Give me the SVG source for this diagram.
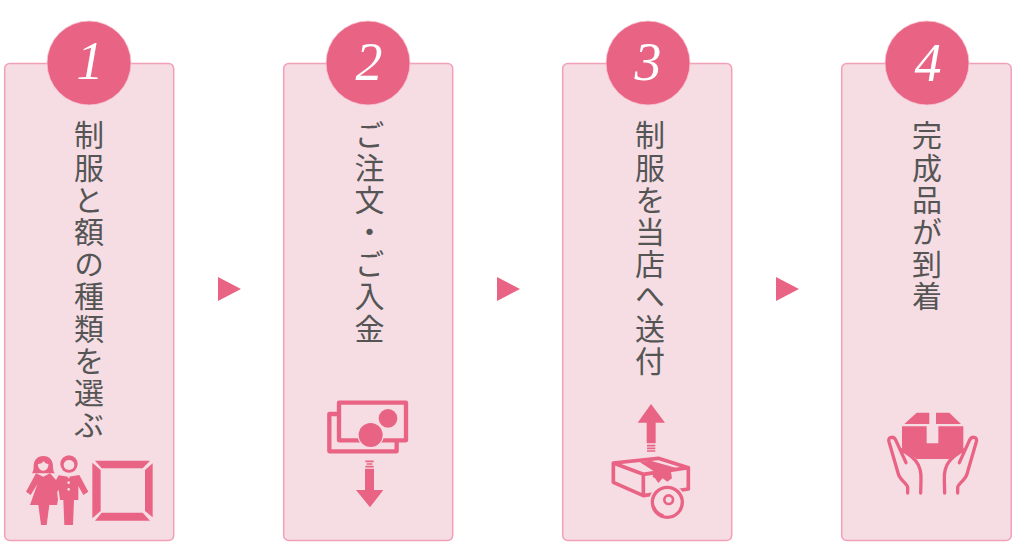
<svg xmlns="http://www.w3.org/2000/svg" width="1024" height="559" viewBox="0 0 1024 559">
<style>
.card{fill:#f6dde4;stroke:#f2a0b8;stroke-width:1.5}
.badge{fill:#e96484;stroke:#f6c3d0;stroke-width:.8}
.num{font-family:"Liberation Serif",serif;font-style:italic;font-size:54px;fill:#fff;text-anchor:middle}
.label{font-family:"Noto Sans CJK JP",sans-serif;font-size:30px;font-weight:400;fill:#555;writing-mode:vertical-rl;letter-spacing:2.2px}
.p{fill:#e96484}
.l{fill:none;stroke:#e96484;stroke-linejoin:round;stroke-linecap:round}
.bg{fill:#f6dde4}
</style>
<g id="connectors">
<polygon class="p" points="218,277 241,289 218,301"/>
<polygon class="p" points="497,277 520,289 497,301"/>
<polygon class="p" points="776,277 799,289 776,301"/>
</g>
<g id="step1">
<rect class="card" x="4.7" y="63.5" width="169" height="477" rx="5"/>
<circle class="badge" cx="89" cy="63" r="42"/>
<text class="num" x="90" y="79">1</text>
<text class="label" x="89" y="120">制服と額の種類を選ぶ</text>
<g transform="translate(0,440) scale(.33333)">
<path class="p" d="M130 48c-19 0-29 14-29 30 0 9-1 15-5 22h68c-4-7-5-13-5-22 0-16-10-30-29-30z"/>
<path class="bg" d="M114 72c8 0 14-3 17-9 3 6 8 9 14 9 1 12-6 20-15 20s-17-8-16-20z"/>
<path class="p" d="M108 100l22 10 20-10 18 20 6 60-3 15h-81l22-62-20 32-14-10z"/>
<path class="p" d="M115 195h33l-8 60h-17z"/>
<circle class="p" cx="207" cy="72" r="26"/>
<ellipse class="bg" cx="207" cy="75" rx="16" ry="15"/>
<path class="p" d="M176 106L205 110 238 105 265 155 250 165 235 138V180H222L219 255H193L190 180H180L176 150 168 160V120z"/>
<circle class="bg" cx="206" cy="128" r="4"/><circle class="bg" cx="206" cy="148" r="4"/><circle class="bg" cx="206" cy="112" r="3"/>
<polygon class="p" points="285,62 450,62 428,85 305,85"/>
<polygon class="p" points="458,70 458,232 435,213 435,90"/>
<polygon class="p" points="285,242 450,242 428,218 305,218"/>
<polygon class="p" points="277,68 277,235 302,213 302,90"/>
</g>
</g>
<g id="step2">
<rect class="card" x="283.7" y="63.5" width="169" height="477" rx="5"/>
<circle class="badge" cx="368" cy="63" r="42"/>
<text class="num" x="369" y="80">2</text>
<text class="label" x="369.500" y="120">ご注文・ご入金</text>
<g transform="translate(310,390) scale(.33333)">
<rect class="l" x="87" y="38" width="201" height="113" stroke-width="13"/>
<path class="l" d="M87 72H58V184H260V153" stroke-width="13"/>
<circle class="p" cx="182" cy="135" r="36" style="stroke:#f6dde4;stroke-width:7;paint-order:stroke"/>
<circle class="p" cx="234" cy="85" r="28"/>
<path class="p" d="M165 236h27v64h28l-40 52-42-52h27z"/>
<path class="l" d="M166 214h25M170 222h17M166 230h25" stroke-width="5" style="stroke-linecap:butt"/>
</g>
</g>
<g id="step3">
<rect class="card" x="562.7" y="63.5" width="169" height="477" rx="5"/>
<circle class="badge" cx="648" cy="63" r="42"/>
<text class="num" x="648" y="80">3</text>
<text class="label" x="650" y="120">制服を当店へ送付</text>
<g transform="translate(590,395) scale(.33333)">
<path class="p" d="M183 27l42 56h-28v62h-27v-62h-27z"/>
<path class="l" d="M171 152h25M171 160h25M171 168h25" stroke-width="5" style="stroke-linecap:butt"/>
<path class="l" stroke-width="11" d="M70 204L205 190 295 218V282L160 302 70 262V204L160 238V302M160 238L295 218"/>
<polygon class="p" points="150,202 182,197 262,220 200,234"/>
<polygon class="p" points="190,232 242,224 246,250 232,260 218,250 205,264 195,250 188,246"/>
<circle class="bg" cx="232" cy="322" r="55"/>
<circle class="l" cx="232" cy="322" r="45" stroke-width="10"/>
<circle class="l" cx="236" cy="314" r="13" stroke-width="8"/>
<path class="l" d="M192 335a42 42 0 0 0 26 25" stroke-width="7"/>
</g>
</g>
<g id="step4">
<rect class="card" x="841.7" y="63.5" width="169.5" height="477" rx="5"/>
<circle class="badge" cx="927" cy="63" r="42"/>
<text class="num" x="928" y="81">4</text>
<text class="label" x="927" y="120">完成品が到着</text>
<g transform="translate(870,400) scale(.33333)">
<polygon class="p" points="103,72 140,38 178,38 178,72"/>
<polygon class="p" points="198,38 238,38 273,72 198,72"/>
<polygon class="p" points="96,79 170,79 170,130 205,130 205,79 280,79 280,146 240,177 140,177 96,146"/>
<path class="l" stroke-width="10" d="M113 279V262C113 252 90 240 85 222L57 125C53 108 72 108 78 122L108 188M92 148C130 170 155 190 153 238L152 279"/>
<path class="l" stroke-width="10" d="M263 279V262C263 252 286 240 291 222L319 125C323 108 304 108 298 122L268 188M284 148C246 170 221 190 223 238L224 279"/>
</g>
</g>
</svg>
